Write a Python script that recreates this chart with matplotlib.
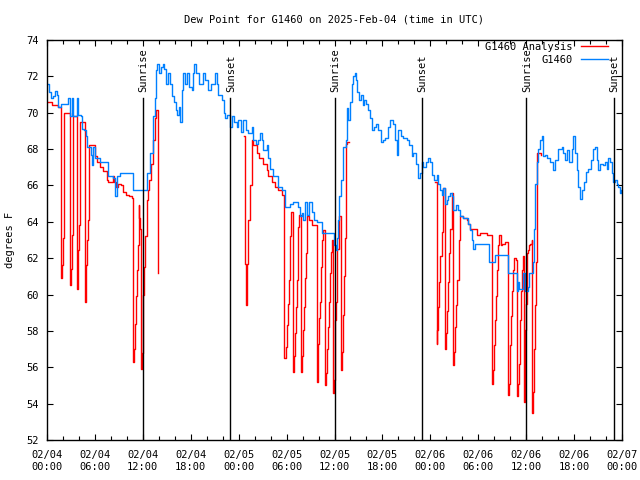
import numpy as np
import matplotlib
matplotlib.use("Agg")
import matplotlib.pyplot as plt
from matplotlib.ticker import MultipleLocator

# hours since 02/04 00:00 UTC and dew point (F)
blue_t = [0.00, 0.29, 0.50, 0.71, 1.00, 1.21, 1.41, 1.72, 2.67, 2.88, 3.09, 3.29, 3.72, 3.92,
          4.26, 4.42, 4.63, 4.85, 4.95, 5.38, 5.51, 5.60, 5.80, 6.01, 6.64, 7.68, 8.30, 8.51,
          8.73, 9.14, 10.81, 12.48, 12.56, 12.90, 13.31, 13.52, 13.65, 13.81, 14.06, 14.24,
          14.49, 14.65, 14.90, 15.19, 15.40, 15.69, 15.90, 16.12, 16.32, 16.53, 16.65, 16.87,
          17.07, 17.28, 17.49, 17.82, 18.12, 18.32, 18.45, 18.66, 19.07, 19.50, 19.78, 20.20,
          20.50, 21.04, 21.25, 21.45, 21.88, 22.16, 22.29, 22.58, 22.92, 23.13, 23.42, 23.75,
          23.96, 24.26, 24.58, 24.92, 25.21, 25.63, 25.83, 26.17, 26.46, 26.67, 26.88, 27.09,
          27.51, 27.64, 27.92, 28.34, 28.96, 29.39, 29.80, 30.43, 30.84, 31.47, 31.68, 31.89,
          32.10, 32.31, 32.60, 32.85, 33.15, 33.47, 33.77, 34.40, 35.98, 36.15, 36.28, 36.38,
          36.56, 36.78, 37.10, 37.44, 37.60, 37.73, 37.94, 38.23, 38.35, 38.57, 38.69, 38.86,
          39.11, 39.28, 39.53, 39.69, 39.94, 40.23, 40.45, 40.66, 40.95, 41.20, 41.49, 41.79,
          42.04, 42.32, 42.74, 42.95, 43.29, 43.58, 43.79, 43.99, 44.29, 44.54, 45.04, 45.37,
          45.67, 45.87, 46.21, 46.49, 46.71, 46.92, 47.12, 47.46, 47.75, 47.96, 48.17, 48.46,
          48.80, 49.00, 49.21, 49.42, 49.62, 49.84, 50.05, 50.25, 50.46, 50.68, 50.88, 51.21,
          51.50, 51.71, 52.13, 52.76, 52.97, 53.18, 53.38, 53.60, 55.39, 56.10, 57.77, 58.89,
          59.01, 59.14, 59.64, 59.86, 60.27, 60.39, 60.82, 60.98, 61.11, 61.32, 61.52, 61.73,
          61.95, 62.07, 62.36, 62.57, 62.99, 63.32, 63.61, 64.02, 64.44, 64.64, 64.86, 65.07,
          65.40, 65.70, 65.90, 66.12, 66.33, 66.53, 66.74, 66.95, 67.24, 67.49, 67.78, 68.08,
          68.41, 68.62, 68.83, 69.03, 69.25, 69.58, 69.87, 70.08, 70.28, 70.50, 70.71, 70.91,
          71.12, 71.33, 71.54, 71.75, 71.87, 72.00]
blue_v = [71.6, 71.16, 70.8, 70.9, 71.2, 71.0, 70.3, 70.5, 70.8, 69.8, 70.8, 69.8, 70.8, 69.9,
          69.8, 69.1, 69.05, 68.7, 68.1, 68.1, 67.7, 67.1, 68.1, 67.5, 67.3, 66.5, 66.4, 65.4,
          66.5, 66.7, 65.75, 66.1, 66.7, 67.8, 69.8, 70.8, 72.35, 72.7, 72.2, 72.5,
          72.7, 72.4, 71.6, 72.2, 71.6, 70.9, 70.6, 70.15, 69.9, 70.3, 69.5, 71.25,
          72.2, 71.6, 72.2, 71.4, 71.25, 72.2, 72.7, 72.2, 71.6, 72.2, 71.8, 71.25,
          71.6, 72.2, 71.6, 71.0, 70.7, 69.96, 69.7, 69.9, 69.2, 69.8, 69.5, 69.2,
          69.6, 68.96, 69.6, 69.05, 68.87, 69.2, 68.5, 68.3, 68.5, 68.87, 68.5, 67.95,
          68.2, 67.5, 66.9, 66.5, 65.9, 65.75, 64.8, 65.0, 65.1, 64.8, 64.3, 64.5,
          64.1, 65.1, 64.4, 65.1, 64.55, 64.1, 64.0, 63.4, 62.7, 62.45, 63.1, 64.1,
          65.4, 66.3, 68.1, 68.5, 70.25, 69.6, 70.6, 71.6, 72.0, 72.2, 71.8, 71.15,
          70.7, 71.0, 70.4, 70.7, 70.5, 70.15, 69.7, 69.05, 69.2, 69.4, 69.05, 68.4,
          68.5, 68.6, 69.2, 69.6, 69.4, 68.5, 67.7, 69.05, 68.7, 68.6, 68.5, 68.2,
          67.6, 67.8, 67.2, 66.4, 66.7, 67.3, 67.0, 67.3, 67.5, 67.3, 66.6, 66.3,
          66.6, 66.1, 65.75, 65.5, 65.85, 65.0, 65.2, 65.4, 65.6, 65.4, 64.65, 64.9,
          64.65, 64.3, 64.2, 63.9, 63.55, 63.0, 62.5, 62.8, 61.8, 62.2, 61.2, 60.2,
          60.7, 60.3, 61.2, 60.2, 60.4, 61.2, 61.8, 63.6, 66.1, 67.3, 68.0, 68.5,
          68.7, 67.6, 67.7, 67.5, 67.3, 66.85, 67.4, 68.0, 68.1, 67.8, 67.4, 67.95,
          67.3, 68.0, 68.7, 67.8, 66.85, 65.9, 65.25, 65.75, 66.2, 66.75, 66.9, 67.4,
          68.0, 68.1, 67.4, 66.85, 67.2, 67.1, 67.3, 66.9, 67.5, 67.3, 66.7, 66.2,
          66.3, 66.1, 65.9, 65.6, 65.75, 65.75]

# analysis series, NaN marks the gaps
red_t = [0.00, 0.63, 1.38, 1.75, 1.88, 2.04, 2.13, 2.88, 3.00, 3.13, 3.26, 3.79, 3.92, 4.04,
         4.17, 4.80, 4.92, 5.05, 5.17, 5.26, 6.01, 6.30, 6.64, 7.05, 7.48, 7.68, 8.23, 8.39,
         8.64, 8.93, 9.27, 9.55, 9.89, 10.31, 10.61, 10.81, 10.93, 11.02, 11.14, 11.27, 11.39,
         11.48, 11.58, 11.68, 11.77, 11.90, 11.98, 12.06, 12.18, 12.31, 12.48, 12.61, 12.81,
         13.02, 13.31, 13.52, 13.65, 13.94, np.nan,
         24.67, 24.79, 24.88, 24.92, 25.01, 25.13, 25.21, 25.36, 25.63, 25.83, 26.26, 26.58,
         27.09, 27.51, 27.71, 28.14, 28.55, 28.96, 29.39, 29.68, 29.72, 29.90, 30.02, 30.14,
         30.27, 30.43, 30.56, 30.77, 30.93, 31.06, 31.18, 31.34, 31.47, 31.59, 31.81, 31.93,
         32.06, 32.18, 32.31, 32.43, 32.60, 32.85, 33.18, 33.77, 33.90, 34.02, 34.19, 34.31,
         34.44, 34.60, 34.81, 34.94, 35.06, 35.19, 35.31, 35.44, 35.56, 35.73, 35.85, 35.94,
         36.03, 36.15, 36.31, 36.56, 36.81, 36.94, 37.03, 37.15, 37.28, 37.40, 37.44, 37.60,
         37.85, np.nan,
         48.59, 48.80, 48.87, 49.00, 49.12, 49.25, 49.42, 49.62, 49.84, 49.96, 50.09, 50.21,
         50.34, 50.46, 50.68, 50.88, 51.00, 51.13, 51.25, 51.38, 51.53, 51.71, 52.13, 52.55,
         52.76, 52.97, 53.81, 54.22, 55.06, 55.69, 55.76, 55.89, 56.01, 56.14, 56.26, 56.39,
         56.51, 56.64, 56.81, 56.98, 57.35, 57.77, 57.89, 58.02, 58.14, 58.27, 58.39, 58.52,
         58.67, 58.82, 58.94, 59.07, 59.19, 59.32, 59.44, 59.57, 59.69, 59.82, 59.94, 60.07,
         60.19, 60.32, 60.48, 60.67, 60.73, 60.86, 60.98, 61.11, 61.23, 61.40, 61.82]
red_v = [70.6, 70.4, 70.3, 60.9, 61.6, 63.1, 70.0, 60.5, 61.4, 63.3, 69.8, 60.3, 62.45, 63.8,
         69.5, 59.6, 61.6, 63.0, 64.1, 68.2, 67.6, 67.3, 67.0, 66.8, 66.3, 66.2, 66.5, 66.2,
         65.9, 66.1, 66.0, 65.65, 65.5, 65.4, 65.3, 56.3, 57.0, 58.4, 59.9, 61.35, 62.7,
         64.9, 64.2, 63.6, 55.9, 56.8, 58.4, 60.0, 61.5, 63.2, 65.2, 65.75, 66.3,
         67.2, 68.5, 69.7, 70.15, 61.2, np.nan,
         68.7, 61.7, 60.25, 59.4, 61.7, 63.2, 64.1, 66.0, 68.5, 68.2, 67.8, 67.5,
         67.2, 66.85, 66.5, 66.2, 65.9, 65.75, 65.5, 65.2, 56.5, 57.1, 58.3, 59.5,
         60.8, 63.2, 64.55, 55.75, 56.6, 57.9, 59.3, 60.8, 63.7, 64.4, 55.75, 56.6,
         58.05, 59.3, 60.9, 62.3, 64.3, 64.1, 63.8, 55.2, 57.3, 58.7, 59.6, 61.5,
         63.0, 63.55, 55.0, 55.7, 57.0, 58.2, 59.6, 61.2, 62.35, 63.0, 54.6, 55.3,
         58.6, 59.6, 62.5, 64.3, 55.85, 56.85, 58.9, 61.0, 63.1, 65.0, 68.3, 68.4,
         68.4, np.nan,
         66.2, 57.3, 58.05, 59.3, 60.7, 62.1, 63.45, 65.85, 57.0, 57.9, 59.1, 60.7,
         62.3, 63.6, 65.6, 56.1, 56.85, 58.2, 59.4, 60.8, 63.0, 64.3, 64.2, 64.1,
         63.9, 63.6, 63.3, 63.4, 63.3, 63.1, 55.1, 55.85, 57.2, 58.6, 59.9, 61.35,
         62.7, 63.3, 62.7, 62.8, 62.9, 54.5, 55.1, 57.2, 58.8, 60.2, 61.35, 62.0,
         61.9, 54.4, 55.1, 56.2, 58.6, 60.2, 61.35, 62.1, 54.1, 58.05, 59.5, 62.3,
         62.45, 62.7, 62.8, 63.0, 53.5, 54.65, 57.0, 59.4, 61.8, 67.8, 67.7]

sun_t = [12.0, 22.95, 36.0, 46.92, 60.0, 70.95]
sun_names = ["Sunrise", "Sunset", "Sunrise", "Sunset", "Sunrise", "Sunset"]

xtick_labels = ["02/04\n00:00", "02/04\n06:00", "02/04\n12:00", "02/04\n18:00",
                "02/05\n00:00", "02/05\n06:00", "02/05\n12:00", "02/05\n18:00",
                "02/06\n00:00", "02/06\n06:00", "02/06\n12:00", "02/06\n18:00",
                "02/07\n00:00"]

fs = 7.5
plt.rcParams['font.family'] = ['DejaVu Sans Mono']
plt.rcParams['font.size'] = fs

fig = plt.figure(figsize=(6.4, 4.8), dpi=100)
ax = fig.add_axes([47/640, 40/480, 575/640, 400/480])

ax.plot(red_t, red_v, color="#ff0000", lw=1.0, drawstyle="steps-post", label="G1460 Analysis")
ax.plot(blue_t, blue_v, color="#0080ff", lw=1.0, drawstyle="steps-post", label="G1460")

for t, name in zip(sun_t, sun_names):
    ax.plot([t, t], [52, 70.8], color="black", lw=1.0)
    ax.text(t + 0.1, 71.15, name, rotation=90, ha="center", va="bottom", fontsize=fs)

ax.set_xlim(0, 72)
ax.set_ylim(52, 74)
ax.set_xticks(np.arange(0, 73, 6))
ax.set_xticklabels(xtick_labels, linespacing=1.3)
ax.xaxis.set_minor_locator(MultipleLocator(2))
ax.set_yticks(np.arange(52, 75, 2))
ax.tick_params(which="both", direction="in", top=True, right=True, width=0.8)
ax.tick_params(which="major", length=4)
ax.tick_params(which="minor", length=3)
ax.tick_params(axis="x", pad=7)
ax.tick_params(axis="y", pad=6)
for s in ax.spines.values():
    s.set_linewidth(1.0)

leg = ax.legend(loc="upper right", bbox_to_anchor=(0.976, 0.995), frameon=False,
                markerfirst=False, handlelength=2.6, handletextpad=0.8,
                labelspacing=0.25, borderaxespad=0, borderpad=0, fontsize=fs)

fig.text(334/640, 1 - 20/480, "Dew Point for G1460 on 2025-Feb-04 (time in UTC)",
         ha="center", va="center", fontsize=fs)
fig.text(10/640, 0.5, "degrees F", rotation=90, ha="center", va="center", fontsize=fs)

fig.savefig("out.png", dpi=100)
